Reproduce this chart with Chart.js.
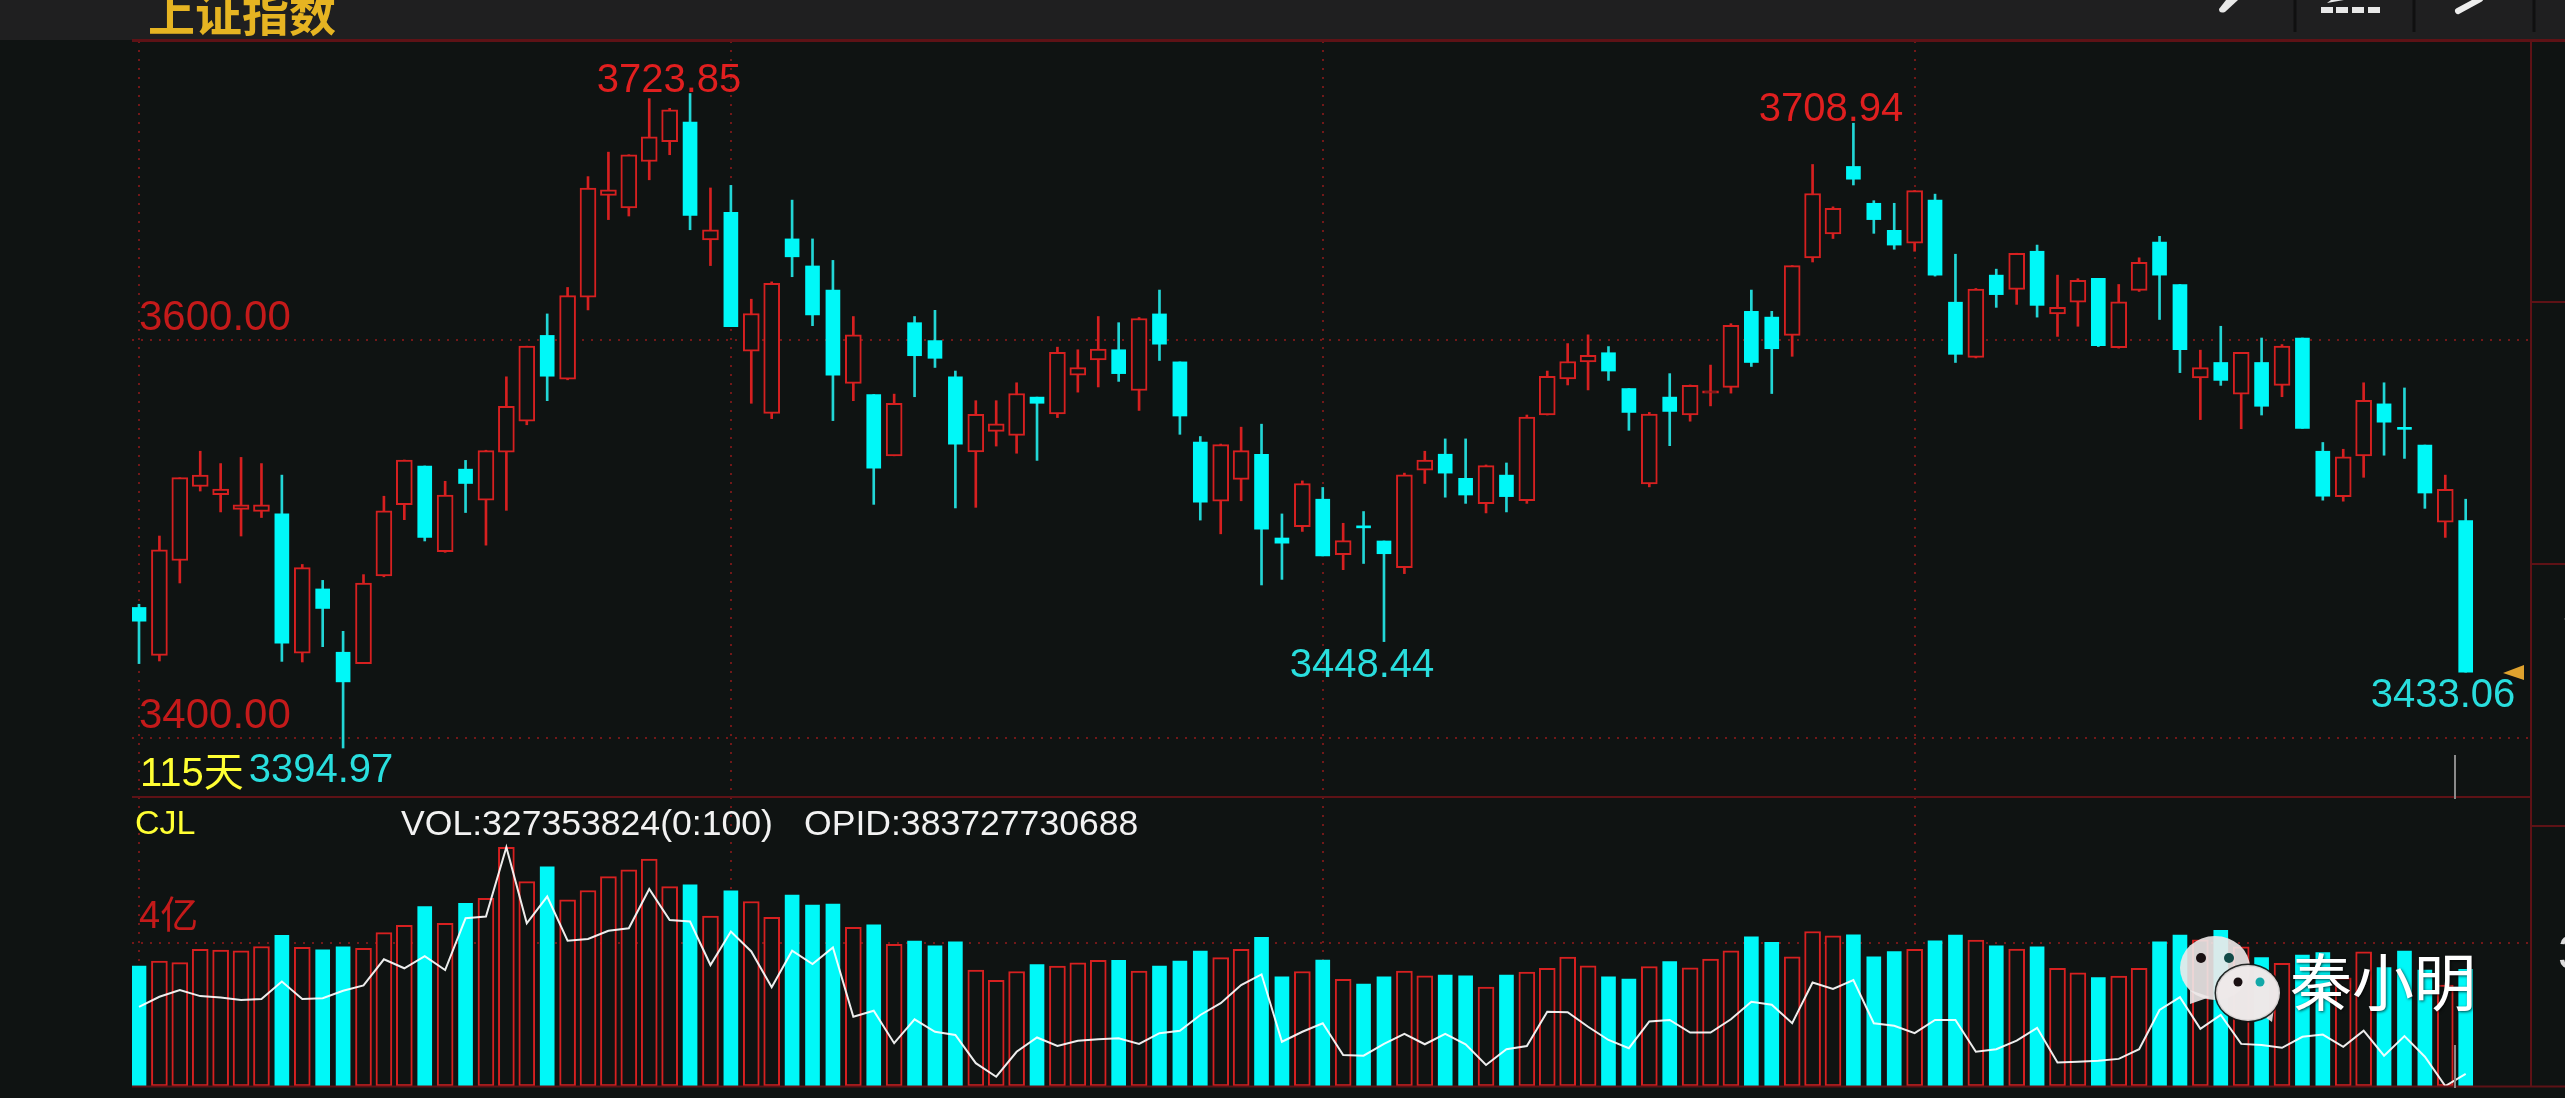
<!DOCTYPE html>
<html>
<head>
<meta charset="utf-8">
<style>
html,body{margin:0;padding:0;background:#0f1312;overflow:hidden}
canvas{display:block}
</style>
<script src="https://cdn.jsdelivr.net/npm/chart.js@4/dist/chart.umd.js"></script>
</head>
<body>
<canvas id="c" width="2565" height="1098" style="width:2565px;height:1098px"></canvas>
<script>
const direction = "CRRRRRRCRCCRRRCRCRRRCRRRRRRCRCRRCCCRCRCCCRRRCRRRCRCCCRRCCRCRCCRRCCRCRRRRCCRCRRRCCRRRCCCRCCRCRCRRCRRCCRCRCRCCRRCCCRC".split("");
const high = [3467.2,3501.5,3530.8,3544.1,3537.9,3541,3537.9,3532.1,3487.2,3479.2,
3453.6,3482.1,3521.5,3539.7,3536.7,3529,3539.5,3544.6,3581.5,3596.9,
3613.1,3626.4,3682.1,3694.4,3693.1,3721.3,3716.4,3723.85,3676.4,3677.7,
3620.5,3629.2,3670.3,3650.8,3640,3611.8,3572.6,3572.8,3611.8,3614.9,
3584.4,3569.5,3569.5,3578.5,3571.3,3596.4,3595.1,3611.8,3608.7,3611.3,
3625.1,3589,3551.5,3547.7,3556.2,3557.7,3512.6,3529.2,3525.9,3507.9,
3513.8,3499,3533.1,3544.1,3550.3,3550.3,3537.2,3538.2,3562.3,3584.4,
3598.2,3602.6,3596.7,3575.6,3563.6,3583.1,3577.4,3587.4,3608.2,3625.1,
3614.4,3637.4,3688.2,3666.9,3708.94,3670,3668.7,3675.1,3673.3,3643.1,
3625.9,3635.6,3643.6,3647.7,3632.6,3630.8,3631,3627.9,3641.3,3652.1,
3627.9,3594.9,3606.9,3593.8,3601,3597.7,3601,3548.5,3545.1,3578.5,
3578.5,3575.9,3547.2,3532.1,3520];
const bodyTop = [3465.6,3494.6,3530.8,3532.1,3525.1,3517.2,3517.2,3512.6,3485.6,3474.9,
3443.1,3477.9,3514.1,3539.7,3536.7,3522.1,3535.1,3544.4,3566.7,3596.9,
3602.3,3622.3,3676.4,3675.4,3693.1,3702.1,3715.6,3709.5,3655.4,3664.1,
3613.3,3628.5,3650.8,3637.2,3625.1,3602.6,3572.6,3568.2,3608.7,3599.7,
3581.5,3562.6,3557.9,3573.1,3571.3,3593.8,3586.2,3595.4,3595.1,3610.8,
3613.1,3589,3548.7,3547.4,3544.4,3542.6,3500.5,3527.9,3520,3499.2,
3506.4,3499,3532.3,3539.7,3542.6,3530.5,3536.9,3532.1,3561.3,3581.8,
3589.2,3592.3,3593.6,3575.6,3562.8,3571.3,3577.2,3574.4,3607.4,3614.4,
3611.5,3637.4,3673.6,3666.2,3687.2,3668.7,3655.1,3675.1,3670.3,3619,
3625.6,3632.6,3643.6,3644.6,3616.4,3630,3631,3619.2,3639,3649.2,
3627.9,3586.2,3588.7,3593.8,3588.7,3596.9,3601,3544.1,3541.3,3569.7,
3567.9,3555.9,3547.2,3524.9,3509.2];
const bodyBottom = [3458.7,3441.5,3489.2,3526.4,3522.3,3514.9,3513.8,3447.7,3442.6,3465.1,
3428.2,3437.4,3481.5,3517.2,3500.8,3493.6,3527.9,3519.5,3543.6,3559.2,
3581.8,3580.3,3621.5,3672.6,3666.4,3689.7,3699.7,3662.6,3650.3,3606.7,
3594.4,3563.1,3641.8,3612.6,3582.3,3578.2,3535.6,3541.8,3592.1,3590.8,
3547.7,3543.8,3554.1,3552.1,3568.2,3562.8,3582.3,3590,3583.1,3574.6,
3597.9,3561.8,3518.5,3519,3530,3504.9,3497.9,3506.2,3491.5,3492.1,
3505.6,3492.6,3485.6,3534.6,3533.1,3522.1,3517.7,3521.3,3519.2,3562.3,
3580.5,3589,3584.4,3563.6,3527.7,3564.1,3562.3,3573.3,3576.2,3588.7,
3595.6,3602.3,3641.3,3653.3,3680.8,3660.5,3647.7,3648.7,3632.6,3592.8,
3591.3,3622.8,3625.4,3617.4,3613.1,3619,3597.2,3596.2,3624.9,3632.6,
3595.1,3581,3579.7,3572.8,3566.7,3577.2,3555.6,3521.5,3521.3,3541.8,
3558.7,3555.1,3523.1,3508.5,3433.06];
const low = [3437.4,3438.7,3477.9,3524.1,3513.6,3501.5,3510.8,3438.5,3438.2,3445.9,
3394.97,3437.4,3481,3509.7,3499,3493.3,3513.3,3496.9,3514.4,3557.4,
3569.5,3580,3615.1,3660.5,3662.3,3680.5,3693.1,3655.4,3637.4,3606.7,
3568.2,3560.5,3631.8,3607.2,3559.5,3569.5,3517.4,3541.8,3571.5,3586.2,
3515.6,3515.9,3546.7,3543.1,3539.5,3561,3573.8,3576.4,3579.2,3564.6,
3589.7,3552.6,3509.5,3502.6,3519.2,3476.9,3479.7,3503.8,3491.5,3484.6,
3487.7,3448.44,3482.6,3527.9,3521,3517.9,3513.1,3513.6,3517.9,3562.3,
3577.4,3574.9,3579.7,3554.6,3526.2,3546.9,3559.2,3566.9,3573.3,3586.7,
3573.1,3591.8,3639.2,3651,3677.9,3653.6,3645.6,3644.6,3632.1,3588.7,
3591,3616.4,3617.9,3611.5,3601.8,3606.9,3596.7,3595.9,3624.4,3610.3,
3583.6,3560,3577.2,3555.4,3562.3,3571.5,3555.6,3519.5,3519,3531,
3542.1,3540.5,3515.4,3500.8,3433.06];
const volume = [3.36,3.50,3.46,3.83,3.81,3.79,3.91,4.22,3.89,3.82,3.90,3.86,4.30,4.50,5.03,4.56,5.12,5.26,6.69,5.73,
6.14,5.22,5.48,5.87,6.06,6.36,5.59,5.64,4.76,5.47,5.17,4.73,5.35,5.07,5.10,4.45,4.52,3.97,4.06,3.93,
4.04,3.25,2.96,3.21,3.40,3.36,3.45,3.52,3.52,3.22,3.36,3.50,3.78,3.60,3.83,4.17,3.06,3.21,3.53,2.99,
2.86,3.06,3.22,3.09,3.11,3.09,2.77,3.11,3.19,3.30,3.61,3.37,3.06,3.00,3.35,3.49,3.31,3.56,3.79,4.18,
4.03,3.62,4.33,4.21,4.24,3.62,3.77,3.83,4.07,4.23,4.09,3.93,3.84,3.90,3.30,3.17,3.04,3.08,3.30,4.04,
4.23,4.1,4.36,3.9,3.60,3.44,3.67,3.74,3.03,3.76,3.32,3.78,3.25,2.83,3.27];
const opid = [2.22,2.50,2.69,2.52,2.48,2.41,2.44,2.93,2.44,2.46,2.67,2.82,3.55,3.30,3.64,3.25,4.70,4.75,6.69,4.56,
5.31,4.07,4.12,4.35,4.42,5.52,4.65,4.61,3.39,4.33,3.77,2.77,3.79,3.42,3.88,1.94,2.11,1.20,1.87,1.52,
1.43,0.64,0.26,0.96,1.36,1.12,1.27,1.31,1.34,1.18,1.48,1.55,1.99,2.32,2.83,3.13,1.24,1.52,1.76,0.87,
0.85,1.18,1.46,1.17,1.46,1.17,0.59,1.03,1.12,2.08,2.07,1.66,1.29,1.06,1.81,1.85,1.50,1.50,1.87,2.36,
2.28,1.76,2.90,2.72,2.97,1.76,1.69,1.48,1.85,1.85,0.96,1.03,1.27,1.63,0.66,0.68,0.71,0.76,1.03,2.13,
2.49,1.60,1.99,1.18,1.15,1.07,1.38,1.44,1.10,1.55,0.85,1.40,0.82,0.00,0.34];
const priceTicks = [3400, 3600];
const volumeTicks = [4];
const timeGridIndexes = [0, 29, 58, 87];

const RED = "#d62020", CYAN = "#00f8f8", BG = "#0f1312", DOT = "#721818", LINE = "#5e1216";
const LATIN = "'Liberation Sans','Noto Sans CJK SC',sans-serif";
const CJK = "'Noto Sans CJK SC',sans-serif";
const rising = i => direction[i] === "R";
const pick = (want, fn) => high.map((_, i) => ({x: i, y: rising(i) === want ? fn(i) : null}));
const noPadding = s => { s.paddingTop = 0; s.paddingBottom = 0; };

const decor = {
  id: "decor",
  beforeDraw(chart) {
    const c = chart.ctx;
    c.save();
    c.fillStyle = BG; c.fillRect(0, 0, chart.width, chart.height);
    c.fillStyle = "#1f1f20"; c.fillRect(0, 0, chart.width, 40);
    c.restore();
  },
  afterDraw(chart) {
    const c = chart.ctx, a = chart.chartArea, split = chart.scales.y.bottom;
    c.save();
    // frame lines
    c.strokeStyle = LINE; c.lineWidth = 3;
    c.beginPath(); c.moveTo(a.left, 40.5); c.lineTo(chart.width, 40.5); c.stroke();
    c.lineWidth = 2;
    c.beginPath(); c.moveTo(a.left, split); c.lineTo(a.right, split); c.stroke();
    c.beginPath(); c.moveTo(a.right, 41); c.lineTo(a.right, a.bottom); c.stroke();
    c.beginPath(); c.moveTo(a.left, a.bottom + 0.5); c.lineTo(chart.width, a.bottom + 0.5); c.stroke();
    [302, 564, 826].forEach(y => { c.beginPath(); c.moveTo(a.right, y); c.lineTo(chart.width, y); c.stroke(); });
    // toolbar
    c.strokeStyle = "#101010"; c.lineWidth = 3;
    [2295, 2414, 2534].forEach(x => { c.beginPath(); c.moveTo(x, 0); c.lineTo(x, 32); c.stroke(); });
    c.fillStyle = "#e8e8e8";
    c.beginPath(); c.moveTo(2219, 9); c.lineTo(2226, 0); c.lineTo(2238, 0); c.lineTo(2225, 12); c.quadraticCurveTo(2219, 14, 2219, 9); c.fill();
    [2321, 2336, 2352, 2368].forEach(x => c.fillRect(x, 7, 12, 6));
    c.beginPath(); c.moveTo(2327, 3); c.lineTo(2344, 0); c.lineTo(2331, 0); c.fill();
    c.strokeStyle = "#ededed"; c.lineWidth = 6; c.lineCap = "round";
    c.beginPath(); c.moveTo(2458, 11); c.lineTo(2480, -1); c.stroke();
    c.lineCap = "butt";
    // title
    c.fillStyle = "#e6b422"; c.font = "700 47px " + CJK; c.textAlign = "left"; c.textBaseline = "alphabetic";
    c.fillText("上证指数", 148, 31);
    // markers
    c.strokeStyle = "#8a8a8a"; c.lineWidth = 2;
    c.beginPath(); c.moveTo(2455, 755); c.lineTo(2455, 799); c.stroke();
    c.beginPath(); c.moveTo(2455, 1045); c.lineTo(2455, 1088); c.stroke();
    c.fillStyle = "#dfa22e";
    c.beginPath(); c.moveTo(2503, 673); c.lineTo(2524, 665); c.lineTo(2524, 680); c.closePath(); c.fill();
    // labels
    const put = (t, x, y, col, font, align) => { c.fillStyle = col; c.font = font; c.textAlign = align || "center"; c.textBaseline = "middle"; c.fillText(t, x, y); };
    const big = "40px " + LATIN;
    put("3723.85", 669, 81, "#e01f1f", big);
    put("3708.94", 1831, 110, "#e01f1f", big);
    put("3448.44", 1362, 666, "#29dede", big);
    put("3433.06", 2443, 696, "#29dede", big);
    put("3394.97", 321, 771, "#29dede", big);
    put("115天", 140, 775, "#ffff33", "40px " + LATIN, "left");
    put("CJL", 135, 825, "#ffff33", "34px " + LATIN, "left");
    put("VOL:327353824(0:100)", 401, 825, "#f2f2f2", "35.6px " + LATIN, "left");
    put("OPID:383727730688", 804, 825, "#f2f2f2", "35.6px " + LATIN, "left");
    put("3", 2558, 956, "#dddddd", "48px " + LATIN, "left");
    put("3", 2563, 615, "#bbbbbb", "40px " + LATIN, "left");
    // watermark
    const bubble = (cx, cy, rx, ry, tail, outline) => {
      c.fillStyle = "rgba(238,233,233,0.9)";
      c.beginPath(); c.ellipse(cx, cy, rx, ry, 0, 0, Math.PI * 2); c.fill();
      c.beginPath(); c.moveTo(tail[0], tail[1]); c.lineTo(tail[2], tail[3]); c.lineTo(tail[4], tail[5]); c.closePath(); c.fill();
      if (outline) { c.strokeStyle = "rgba(15,19,18,0.9)"; c.lineWidth = 3; c.beginPath(); c.ellipse(cx, cy, rx + 1, ry + 1, 0, 0, Math.PI * 2); c.stroke(); c.fill(); }
    };
    const dot = (x, y, r, col) => { c.fillStyle = col; c.beginPath(); c.arc(x, y, r, 0, Math.PI * 2); c.fill(); };
    bubble(2215, 968, 35, 32, [2190, 990, 2190, 1004, 2210, 997], false);
    dot(2201, 958, 5, "#1a1012"); dot(2229, 958, 5, "#114a48");
    bubble(2248, 993, 31, 27, [2262, 1015, 2272, 1022, 2274, 1008], true);
    dot(2238, 982, 4.5, "#1a1012"); dot(2260, 982, 4.5, "#12a8a8");
    c.shadowColor = "rgba(0,0,0,0.7)"; c.shadowBlur = 3; c.shadowOffsetX = 1; c.shadowOffsetY = 1;
    put("秦小明", 2290, 982, "#ffffff", "62px " + CJK, "left");
    c.restore();
  }
};

const wickColor = ctx => rising(ctx.dataIndex) ? RED : "#22d6d6";
new Chart(document.getElementById("c"), {
  data: {
    datasets: [
      {type: "line", label: "OPID", yAxisID: "yVol", order: 0,
        data: opid.map((v, i) => ({x: i, y: v})),
        borderColor: "rgba(255,255,255,0.92)", borderWidth: 2, pointRadius: 0, tension: 0},
      {type: "bar", label: "vol up", yAxisID: "yVol", order: 1, barThickness: 16, grouped: false,
        data: pick(true, i => volume[i]), backgroundColor: BG, borderColor: RED, borderWidth: 2, borderSkipped: false},
      {type: "bar", label: "vol down", yAxisID: "yVol", order: 1, barThickness: 14, grouped: false,
        data: pick(false, i => volume[i]), backgroundColor: CYAN, borderWidth: 0},
      {type: "bar", label: "body up", yAxisID: "y", order: 1, barThickness: 16, grouped: false,
        data: pick(true, i => [bodyBottom[i], bodyTop[i]]), backgroundColor: BG, borderColor: RED, borderWidth: 2, borderSkipped: false},
      {type: "bar", label: "body down", yAxisID: "y", order: 1, barThickness: 14, grouped: false,
        data: pick(false, i => [bodyBottom[i], bodyTop[i]]), backgroundColor: CYAN, borderWidth: 0, minBarLength: 2},
      {type: "bar", label: "wick", yAxisID: "y", order: 2, barThickness: 2, grouped: false,
        data: high.map((h, i) => ({x: i, y: [low[i], h]})), backgroundColor: wickColor, borderWidth: 0}
    ]
  },
  plugins: [decor],
  options: {
    responsive: false, animation: false, devicePixelRatio: 1,
    layout: {autoPadding: false, padding: {left: 118, top: 41, right: 34, bottom: 12}},
    plugins: {legend: {display: false}, tooltip: {enabled: false}},
    scales: {
      x: {
        type: "linear", min: -0.343, max: 117.2, offset: false,
        afterBuildTicks: s => { s.ticks = timeGridIndexes.map(v => ({value: v})); },
        ticks: {display: false},
        grid: {color: DOT, lineWidth: 2, drawTicks: false, offset: false},
        border: {display: false, dash: [2, 7]}
      },
      yVol: {
        type: "linear", position: "left", stack: "panes", stackWeight: 289, min: 0, max: 8.1,
        afterFit: noPadding,
        afterBuildTicks: s => { s.ticks = volumeTicks.map(v => ({value: v})); },
        ticks: {mirror: true, padding: 7, labelOffset: -26, color: "#c41a1a",
          font: {family: "'Liberation Sans','Noto Sans CJK SC',sans-serif", size: 38},
          callback: v => v + "亿"},
        grid: {color: DOT, lineWidth: 2, drawTicks: false},
        border: {display: false, dash: [2, 7]}
      },
      y: {
        type: "linear", position: "left", stack: "panes", stackWeight: 756, min: 3370.35, max: 3750.25,
        afterFit: noPadding,
        afterBuildTicks: s => { s.ticks = priceTicks.map(v => ({value: v})); },
        ticks: {mirror: true, padding: 7, labelOffset: -22, color: "#c41a1a",
          font: {family: "'Liberation Sans',sans-serif", size: 42},
          callback: v => v.toFixed(2)},
        grid: {color: DOT, lineWidth: 2, drawTicks: false},
        border: {display: false, dash: [2, 7]}
      }
    }
  }
});
</script>
</body>
</html>
